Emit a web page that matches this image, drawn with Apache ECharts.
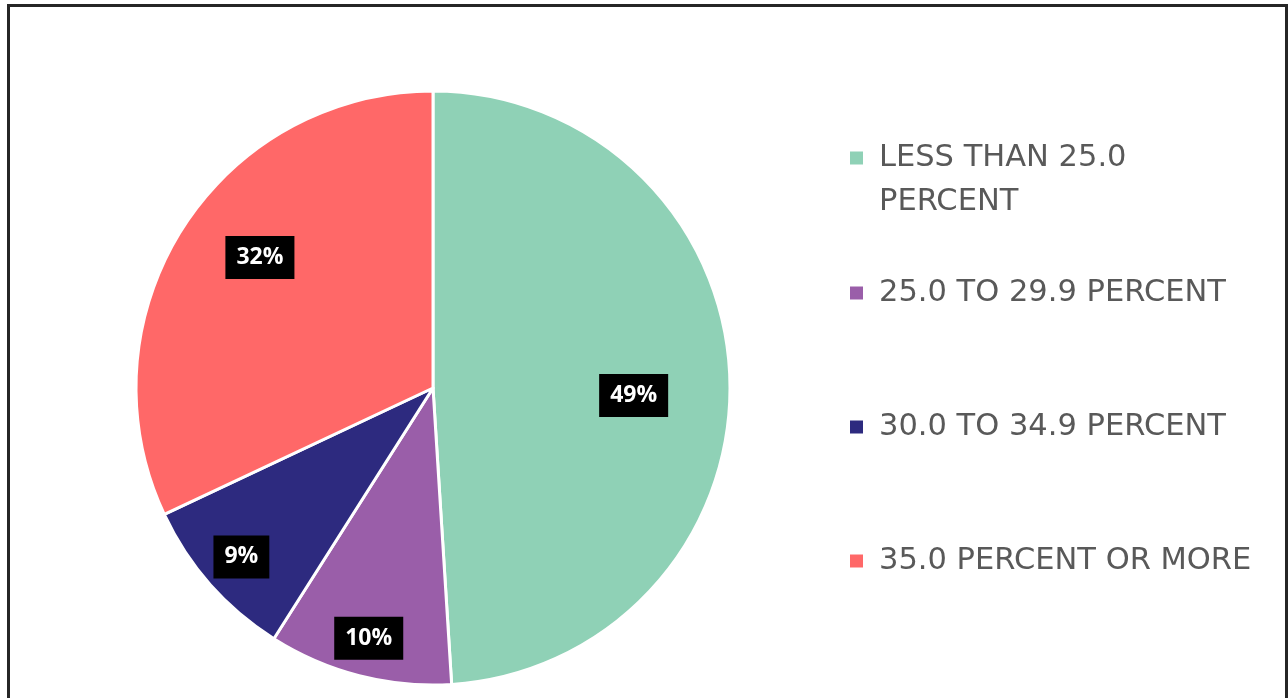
<!DOCTYPE html>
<html><head><meta charset="utf-8">
<script src="https://cdn.jsdelivr.net/npm/echarts@6/dist/echarts.min.js"></script>
<style>html,body{margin:0;padding:0;background:#fff}#main{width:1288px;height:698px}</style>
</head><body><div id="main"></div>
<script>
// ---- data ----
const categories = ['LESS THAN 25.0 PERCENT', '25.0 TO 29.9 PERCENT', '30.0 TO 34.9 PERCENT', '35.0 PERCENT OR MORE'];
const values = [49, 10, 9, 32];
const legendTexts = ['\nLESS THAN 25.0\nPERCENT', '25.0 TO 29.9 PERCENT', '30.0 TO 34.9 PERCENT', '35.0 PERCENT OR MORE'];

// ---- styles ----
const colors = ['#8fd1b6', '#9a5ea9', '#2d2a7f', '#ff6868'];
const labelRadius = [0.666, 0.86, 0.85, 0.72];   // fraction of pie radius for each label
const labelAngleShift = [4, 0, 0, 4.7];           // degrees, clockwise
const legendTops = [92, 271, 405, 539];
const R = 297, CX = 433, CY = 388;

const total = values.reduce((a, b) => a + b, 0);
let cum = 0;
const labelOffsets = values.map((v, i) => {
  const mid = (cum + v / 2) / total * Math.PI * 2;
  cum += v;
  const k = labelRadius[i] * R;
  const a = mid + labelAngleShift[i] * Math.PI / 180;
  const base = 0.5 * R;
  return [k * Math.sin(a) - base * Math.sin(mid), -k * Math.cos(a) + base * Math.cos(mid)];
});

const chart = echarts.init(document.getElementById('main'));
const legends = categories.map((c, i) => ({
  data: [c],
  left: 848,
  top: legendTops[i],
  orient: 'vertical',
  padding: 0,
  selectedMode: false,
  icon: 'rect',
  itemWidth: 15,
  itemHeight: 15,
  formatter: (name) => legendTexts[categories.indexOf(name)],
  textStyle: {
    fontFamily: 'DejaVu Sans',
    fontSize: 30.5,
    color: '#595959',
    lineHeight: 44,
    padding: [0, 0, 0, 10]
  }
}));

chart.setOption({
  animation: false,
  backgroundColor: '#fff',
  color: colors,
  legend: legends,
  graphic: [{
    type: 'rect',
    shape: { x: 8.5, y: 5.5, width: 1278, height: 720 },
    style: { fill: 'none', stroke: '#262626', lineWidth: 3 },
    silent: true
  }],
  series: [{
    type: 'pie',
    center: [CX, CY],
    radius: [0, R],
    startAngle: 90,
    clockwise: true,
    avoidLabelOverlap: false,
    itemStyle: { borderColor: '#fff', borderWidth: 3 },
    label: {
      position: 'inside',
      formatter: '{c}%',
      color: '#fff',
      fontFamily: 'Open Sans',
      fontWeight: 'bold',
      fontSize: 23,
      backgroundColor: '#000',
      padding: [10, 11]
    },
    labelLine: { show: false },
    labelLayout: (p) => ({ dx: labelOffsets[p.dataIndex][0], dy: labelOffsets[p.dataIndex][1] }),
    emphasis: { disabled: true },
    data: categories.map((c, i) => ({ name: c, value: values[i] }))
  }]
});
</script>
</body></html>
